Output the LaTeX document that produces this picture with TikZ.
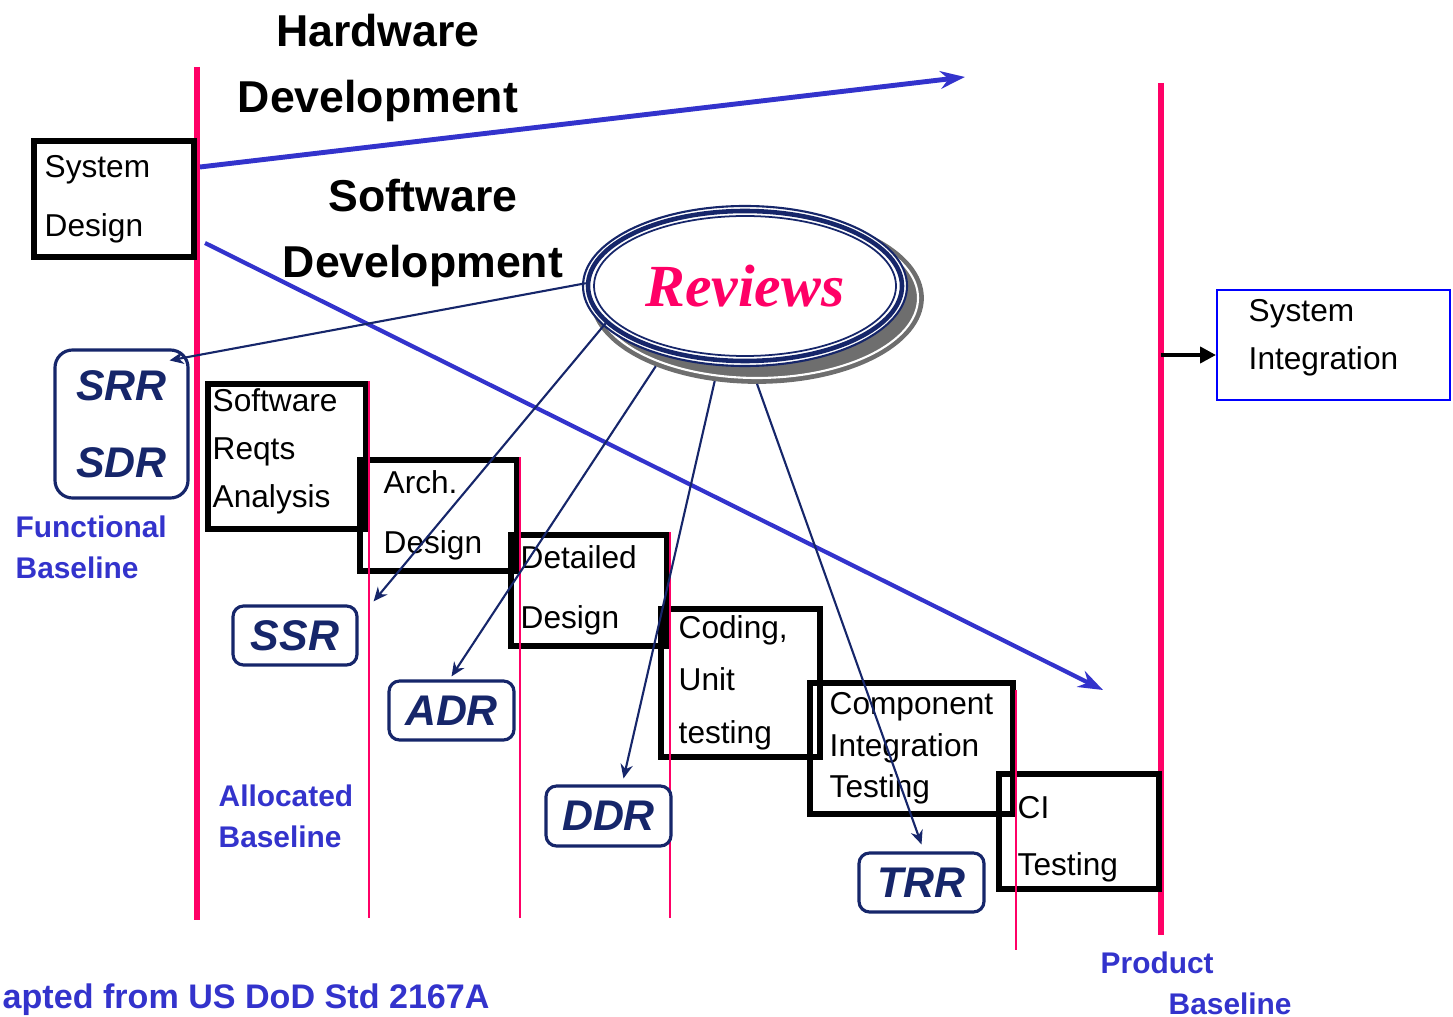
\documentclass[tikz,border=0pt]{standalone}
\usepackage{fontspec}
\setmainfont{Liberation Sans}
\newfontfamily\reviewsfont{Liberation Serif}
\usetikzlibrary{calc}
\usetikzlibrary{shapes.geometric}
\usetikzlibrary{arrows.meta}
\usetikzlibrary{positioning}
\definecolor{milestone}{RGB}{255,0,102}
\definecolor{devblue}{RGB}{51,51,204}
\definecolor{revnavy}{RGB}{22,38,106}
\definecolor{shadowgray}{RGB}{110,110,110}
\tikzset{
	phase/.style={rectangle, draw, line width=1.6pt, anchor=north west, inner sep=0},
	phasetext/.style={align=left, inner sep=0},
	review/.style={rectangle, draw=revnavy, line width=0.9pt, rounded corners=3pt, fill=white, text=revnavy, align=center, inner sep=0, font=\fontsize{12.2}{22}\selectfont\bfseries\itshape},
	reviewring/.style={ellipse, draw=revnavy, line width=1.3pt, fill=white, minimum width=3.14cm, minimum height=1.50cm, inner sep=0, text=milestone, font=\reviewsfont\fontsize{17}{20}\selectfont\bfseries\itshape},
	revshadow/.style={ellipse, fill=shadowgray, draw=shadowgray, line width=0.5pt, minimum width=3.32cm, minimum height=1.70cm, inner sep=0},
	baselabel/.style={anchor=west, align=left, inner sep=0, text=devblue, font=\fontsize{8.5}{11.7}\selectfont\bfseries},
	devtitle/.style={anchor=north, align=center, inner sep=0, font=\fontsize{12.7}{19}\selectfont\bfseries},
	milestoneline/.style={draw=milestone, line width=1.7pt},
	thinline/.style={draw=milestone, line width=0.5pt},
	devarrow/.style={draw=devblue, line width=1.4pt, -{Stealth[length=7pt, width=5pt]}},
	revarrow/.style={draw=revnavy, line width=0.6pt, -{Stealth[length=4pt, width=3.5pt]}},
	intarrow/.style={draw, line width=1.1pt, -{Triangle[length=4.5pt, width=4.5pt]}}
}
\begin{document}
\begin{tikzpicture}[x=1cm, y=-1cm]

\useasboundingbox (0,0) rectangle (14.53,10.17);

\coordinate (redLtop) at (1.97,0.67);
\coordinate (redLbot) at (1.97,9.20);
\coordinate (redRtop) at (11.61,0.83);
\coordinate (redRbot) at (11.61,9.35);
\coordinate (floor) at (0,9.18);
\coordinate (floorlow) at (0,9.50);

\draw[milestoneline] (redLtop) -- (redLbot);
\draw[milestoneline] (redRtop) -- (redRbot);

\node[devtitle] (hwtitle) at (3.78,0.13) {Hardware\\Development};
\node[devtitle] (swtitle) at (4.23,1.78) {Software\\Development};

\coordinate (hwstart) at (2.00,1.67);
\coordinate (hwend) at (9.65,0.77);
\coordinate (swstart) at (2.05,2.43);
\coordinate (swend) at (11.03,6.90);

\draw[devarrow] (hwstart) -- (hwend);
\draw[devarrow, line width=1.2pt] (swstart) -- (swend);

\node[phase, minimum width=1.60cm, minimum height=1.16cm] (sysdes) at (0.31,1.38) {};
\node[phasetext, font=\fontsize{9}{16.8}\selectfont, right=0.13cm of sysdes.west] (sysdestext) {System\\Design};

\node[phase, minimum width=1.58cm, minimum height=1.45cm] (reqts) at (2.05,3.81) {};
\node[phasetext, font=\fontsize{9}{13.7}\selectfont, right=0.07cm of reqts.west, yshift=0.05cm] (reqtstext) {Software\\Reqts\\Analysis};

\node[phase, minimum width=1.57cm, minimum height=1.11cm] (arch) at (3.57,4.57) {};
\node[phasetext, font=\fontsize{9}{17}\selectfont, right=0.26cm of arch.west] (archtext) {Arch.\\Design};

\node[phase, minimum width=1.56cm, minimum height=1.11cm] (detail) at (5.08,5.32) {};
\node[phasetext, font=\fontsize{9}{17}\selectfont, right=0.12cm of detail.west] (detailtext) {Detailed\\Design};

\node[phase, minimum width=1.59cm, minimum height=1.48cm] (coding) at (6.58,6.06) {};
\node[phasetext, font=\fontsize{9}{14.8}\selectfont, right=0.2cm of coding.west] (codingtext) {Coding,\\Unit\\testing};

\node[phase, minimum width=2.03cm, minimum height=1.31cm] (comp) at (8.07,6.80) {};
\node[phasetext, font=\fontsize{9}{11.7}\selectfont, right=0.22cm of comp.west] (comptext) {Component\\Integration\\Testing};

\node[phase, minimum width=1.60cm, minimum height=1.15cm] (ci) at (9.96,7.71) {};
\node[phasetext, font=\fontsize{9}{16}\selectfont, right=0.21cm of ci.west, yshift=-0.08cm] (citext) {CI\\Testing};

\draw[thinline] (reqts.north east) -- (reqts.north east |- floor);
\draw[thinline] (arch.north east) -- (arch.north east |- floor);
\draw[thinline] (detail.north east) -- (detail.north east |- floor);
\draw[thinline] ([yshift=-0.1cm]comp.north east) -- (comp.north east |- floorlow);

\node[phase, draw=blue, line width=0.5pt, minimum width=2.33cm, minimum height=1.10cm] (sysint) at (12.16,2.89) {};
\node[phasetext, font=\fontsize{9}{13.7}\selectfont, right=0.32cm of sysint.west, yshift=0.07cm] (sysinttext) {System\\Integration};

\coordinate (intstart) at (11.61,3.55);
\draw[intarrow] (intstart) -- (intstart -| sysint.west);

\node[review, rounded corners=5pt, minimum width=1.33cm, minimum height=1.48cm] (srr) at (1.215,4.24) {SRR\\SDR};
\node[review, minimum width=1.24cm, minimum height=0.59cm] (ssr) at (2.95,6.355) {SSR};
\node[review, minimum width=1.25cm, minimum height=0.59cm] (adr) at (4.515,7.105) {ADR};
\node[review, minimum width=1.25cm, minimum height=0.60cm] (ddr) at (6.085,8.16) {DDR};
\node[review, minimum width=1.25cm, minimum height=0.59cm] (trr) at (9.215,8.825) {TRR};

\coordinate (revc) at (7.45,2.86);
\node[revshadow] (revshadow) at ($(revc)+(0.12,0.12)$) {};
\draw[white, line width=0.6pt] (revshadow.center) ellipse (1.61 and 0.80);
\draw[draw=revnavy, fill=white, line width=0.6pt] (revc) ellipse (1.62 and 0.80);
\node[reviewring] (reviews) at (revc) {Reviews};
\draw[revnavy, line width=0.5pt] (revc) ellipse (1.51 and 0.70);

\draw[revarrow] (reviews.179) -- ([xshift=-0.2cm, yshift=-0.12cm]srr.north east);
\draw[revarrow] (reviews.195) -- ([xshift=0.15cm, yshift=0.03cm]ssr.north east);
\draw[revarrow] (revshadow.214) -- ([yshift=0.03cm]adr.north);
\draw[revarrow] (revshadow.243) -- ([xshift=0.15cm, yshift=0.06cm]ddr.north);
\draw[revarrow] (revshadow.270) -- ([yshift=0.07cm]trr.north);

\node[baselabel] (funcbase) at (0.15,5.475) {Functional\\Baseline};
\node[baselabel] (allocbase) at (2.18,8.165) {Allocated\\Baseline};
\node[baselabel] (prodbase) at (11.00,9.835) {Product\\\hspace*{0.68cm}Baseline};
\node[baselabel, font=\fontsize{9.7}{12}\selectfont\bfseries] (source) at (0.02,10.0) {apted from US DoD Std 2167A};

\end{tikzpicture}
\end{document}
